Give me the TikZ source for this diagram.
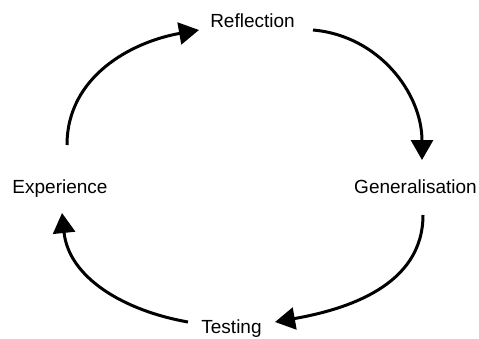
\documentclass[tikz,border=0pt]{standalone}
\usepackage{fontspec}
\setmainfont{Liberation Sans}
\usetikzlibrary{arrows.meta}
\begin{document}
\begin{tikzpicture}[x=1pt,y=1pt,
  label/.style={inner sep=0pt,anchor=base,font=\fontsize{19}{22}\selectfont},
  cyclearrow/.style={line width=3pt,-{Triangle[length=20pt,width=22pt]}}]
  \useasboundingbox (0,0) rectangle (479,338);
  % stage labels
  \node[label] (refl) at (252.5,310) {Reflection};
  \node[label] (gen)  at (415.5,145) {Generalisation};
  \node[label] (test) at (231.5,5)   {Testing};
  \node[label] (exp)  at (60,145)    {Experience};
  % arrow ends around the cycle
  \coordinate (e1) at (67,193);
  \coordinate (r1) at (199,308);
  \coordinate (r2) at (313,308);
  \coordinate (g1) at (422,178);
  \coordinate (g2) at (423,123);
  \coordinate (t1) at (275,16);
  \coordinate (t2) at (188,16);
  \coordinate (x1) at (62,125);
  % cycle arrows
  \draw[cyclearrow] (e1) to[out=90,in=190] (r1);
  \draw[cyclearrow] (r2) to[out=-5,in=90] (g1);
  \draw[cyclearrow] (g2) to[out=-90,in=10] (t1);
  \draw[cyclearrow] (t2) to[out=170,in=-84] (x1);
\end{tikzpicture}
\end{document}
